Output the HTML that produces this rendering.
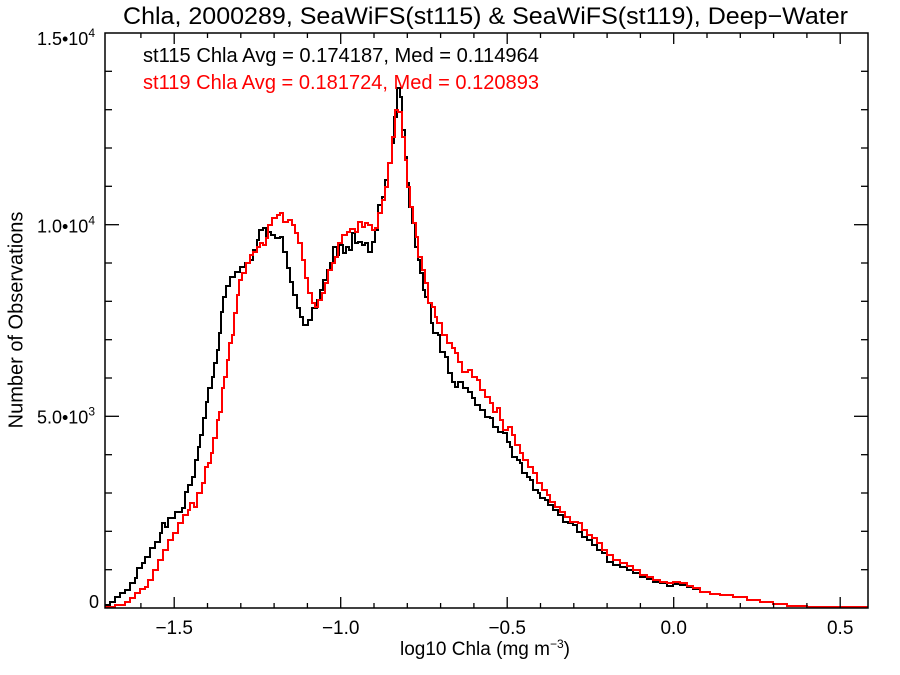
<!DOCTYPE html>
<html>
<head>
<meta charset="utf-8">
<style>
  html, body { margin: 0; padding: 0; background: #ffffff; }
  body { width: 900px; height: 675px; overflow: hidden; }
  svg { display: block; font-family: "Liberation Sans", Arial, sans-serif; }
</style>
</head>
<body>
<svg width="900" height="675" viewBox="0 0 900 675" xmlns="http://www.w3.org/2000/svg">
  <rect x="0" y="0" width="900" height="675" fill="#ffffff"/>

  <text x="123" y="24" font-size="24" fill="#000" textLength="725" lengthAdjust="spacingAndGlyphs">Chla, 2000289, SeaWiFS(st115) &amp; SeaWiFS(st119), Deep&#8722;Water</text>

  <path fill="none" stroke="#000" stroke-width="2" d="M105 605 H110 V602 H115 V597 H120 V593 H125 V590 H130 V583 H135 V578 H137 V568 H142 V563 H145 V557 H150 V548 H155 V542 H160 V533 H162 V523 H165 V527 H168 V518 H175 V512 H182 V508 H185 V492 H188 V485 H192 V477 H195 V460 H198 V447 H200 V435 H203 V418 H206 V402 H208 V388 H212 V377 H214 V363 H217 V350 H219 V333 H221 V312 H223 V297 H226 V286 H230 V277 H235 V272 H240 V267 H245 V263 H250 V260 H253 V250 H257 V240 H259 V230 H263 V228 H266 V238 H268 V232 H271 V235 H275 V238 H280 V237 H283 V252 H287 V268 H290 V282 H293 V295 H297 V308 H300 V317 H303 V325 H308 V320 H312 V308 H317 V300 H320 V290 H323 V280 H327 V270 H330 V263 H333 V247 H337 V255 H339 V245 H343 V253 H346 V247 H349 V250 H352 V233 H355 V243 H358 V242 H362 V245 H365 V243 H368 V252 H372 V242 H375 V230 H378 V205 H382 V197 H385 V180 H388 V163 H392 V143 H394 V117 H397 V88 H400 V97 H402 V130 H405 V157 H407 V183 H409 V207 H412 V223 H415 V247 H418 V260 H420 V273 H423 V290 H425 V297 H428 V303 H431 V323 H433 V333 H438 V335 H440 V352 H445 V357 H448 V373 H452 V382 H455 V387 H458 V382 H463 V388 H468 V392 H472 V398 H475 V405 H480 V410 H485 V417 H490 V418 H493 V427 H498 V432 H503 V433 H507 V442 H510 V447 H512 V457 H517 V460 H520 V463 H522 V473 H527 V477 H530 V480 H533 V490 H538 V493 H540 V498 H545 V500 H548 V505 H553 V510 H558 V515 H563 V522 H568 V523 H573 V525 H577 V532 H582 V537 H587 V540 H592 V545 H597 V550 H602 V553 H607 V562 H613 V565 H620 V567 H627 V570 H633 V573 H640 V577 H647 V579 H653 V582 H660 V583 H667 V586 H673 V584 H680 V585 H687 V587 H693 V589 H700 V592 H710 V594 H720 V595 H733 V597 H747 V600 H760 V602 H773 V604 H787 V606 H807 V607 H867 V608"/>

  <path fill="none" stroke="#ff0000" stroke-width="2" d="M105 607 H115 V605 H125 V602 H130 V598 H135 V593 H140 V589 H145 V587 H148 V580 H153 V570 H158 V560 H163 V550 H168 V540 H173 V533 H178 V523 H183 V515 H188 V510 H190 V503 H194 V507 H197 V493 H202 V483 H205 V467 H208 V463 H211 V453 H213 V438 H217 V420 H219 V412 H222 V388 H224 V377 H227 V360 H229 V343 H232 V335 H234 V313 H237 V295 H239 V280 H242 V273 H246 V263 H250 V255 H253 V252 H257 V247 H260 V243 H263 V245 H266 V238 H268 V225 H272 V218 H277 V215 H280 V213 H283 V222 H288 V220 H292 V225 H295 V233 H298 V243 H302 V260 H305 V278 H308 V293 H312 V303 H315 V307 H318 V300 H322 V293 H325 V283 H328 V270 H332 V263 H335 V257 H338 V243 H342 V235 H347 V232 H350 V229 H355 V232 H358 V222 H362 V227 H365 V223 H368 V225 H372 V230 H375 V228 H378 V213 H382 V200 H385 V187 H388 V163 H392 V137 H395 V110 H398 V112 H402 V137 H405 V160 H407 V187 H410 V207 H413 V223 H416 V237 H418 V257 H422 V270 H425 V283 H428 V303 H432 V307 H435 V317 H437 V323 H442 V335 H447 V343 H452 V348 H455 V353 H458 V362 H462 V372 H468 V370 H472 V377 H477 V380 H480 V390 H485 V397 H490 V403 H493 V412 H497 V408 H500 V420 H503 V430 H508 V427 H512 V435 H515 V445 H520 V453 H523 V460 H528 V467 H533 V473 H537 V483 H542 V490 H547 V495 H550 V502 H555 V507 H560 V512 H565 V517 H570 V522 H578 V523 H582 V530 H587 V535 H592 V538 H597 V543 H602 V550 H607 V555 H613 V560 H620 V563 H627 V566 H633 V570 H640 V575 H647 V577 H653 V580 H660 V582 H667 V583 H673 V582 H680 V583 H687 V586 H693 V588 H700 V592 H710 V594 H720 V595 H733 V597 H747 V600 H760 V602 H773 V604 H787 V606 H807 V607 H867 V608"/>

  <rect x="105" y="33" width="763" height="575" fill="none" stroke="#000" stroke-width="1.5"/>

  <g stroke="#000" stroke-width="1.3">
    <line x1="140.9" y1="608" x2="140.9" y2="603"/>
    <line x1="174.2" y1="608" x2="174.2" y2="597"/>
    <line x1="207.5" y1="608" x2="207.5" y2="603"/>
    <line x1="240.8" y1="608" x2="240.8" y2="603"/>
    <line x1="274.1" y1="608" x2="274.1" y2="603"/>
    <line x1="307.4" y1="608" x2="307.4" y2="603"/>
    <line x1="340.7" y1="608" x2="340.7" y2="597"/>
    <line x1="374.0" y1="608" x2="374.0" y2="603"/>
    <line x1="407.3" y1="608" x2="407.3" y2="603"/>
    <line x1="440.6" y1="608" x2="440.6" y2="603"/>
    <line x1="473.9" y1="608" x2="473.9" y2="603"/>
    <line x1="507.2" y1="608" x2="507.2" y2="597"/>
    <line x1="540.5" y1="608" x2="540.5" y2="603"/>
    <line x1="573.8" y1="608" x2="573.8" y2="603"/>
    <line x1="607.1" y1="608" x2="607.1" y2="603"/>
    <line x1="640.4" y1="608" x2="640.4" y2="603"/>
    <line x1="673.7" y1="608" x2="673.7" y2="597"/>
    <line x1="707.0" y1="608" x2="707.0" y2="603"/>
    <line x1="740.3" y1="608" x2="740.3" y2="603"/>
    <line x1="773.6" y1="608" x2="773.6" y2="603"/>
    <line x1="806.9" y1="608" x2="806.9" y2="603"/>
    <line x1="840.2" y1="608" x2="840.2" y2="597"/>
    <line x1="140.9" y1="33" x2="140.9" y2="38"/>
    <line x1="174.2" y1="33" x2="174.2" y2="44"/>
    <line x1="207.5" y1="33" x2="207.5" y2="38"/>
    <line x1="240.8" y1="33" x2="240.8" y2="38"/>
    <line x1="274.1" y1="33" x2="274.1" y2="38"/>
    <line x1="307.4" y1="33" x2="307.4" y2="38"/>
    <line x1="340.7" y1="33" x2="340.7" y2="44"/>
    <line x1="374.0" y1="33" x2="374.0" y2="38"/>
    <line x1="407.3" y1="33" x2="407.3" y2="38"/>
    <line x1="440.6" y1="33" x2="440.6" y2="38"/>
    <line x1="473.9" y1="33" x2="473.9" y2="38"/>
    <line x1="507.2" y1="33" x2="507.2" y2="44"/>
    <line x1="540.5" y1="33" x2="540.5" y2="38"/>
    <line x1="573.8" y1="33" x2="573.8" y2="38"/>
    <line x1="607.1" y1="33" x2="607.1" y2="38"/>
    <line x1="640.4" y1="33" x2="640.4" y2="38"/>
    <line x1="673.7" y1="33" x2="673.7" y2="44"/>
    <line x1="707.0" y1="33" x2="707.0" y2="38"/>
    <line x1="740.3" y1="33" x2="740.3" y2="38"/>
    <line x1="773.6" y1="33" x2="773.6" y2="38"/>
    <line x1="806.9" y1="33" x2="806.9" y2="38"/>
    <line x1="840.2" y1="33" x2="840.2" y2="44"/>
  </g>

  <g stroke="#000" stroke-width="1.3">
    <line x1="105" y1="569.7" x2="112" y2="569.7"/>
    <line x1="105" y1="531.3" x2="112" y2="531.3"/>
    <line x1="105" y1="493.0" x2="112" y2="493.0"/>
    <line x1="105" y1="454.7" x2="112" y2="454.7"/>
    <line x1="105" y1="416.3" x2="119" y2="416.3"/>
    <line x1="105" y1="378.0" x2="112" y2="378.0"/>
    <line x1="105" y1="339.7" x2="112" y2="339.7"/>
    <line x1="105" y1="301.3" x2="112" y2="301.3"/>
    <line x1="105" y1="263.0" x2="112" y2="263.0"/>
    <line x1="105" y1="224.7" x2="119" y2="224.7"/>
    <line x1="105" y1="186.3" x2="112" y2="186.3"/>
    <line x1="105" y1="148.0" x2="112" y2="148.0"/>
    <line x1="105" y1="109.7" x2="112" y2="109.7"/>
    <line x1="105" y1="71.3" x2="112" y2="71.3"/>
    <line x1="868" y1="569.7" x2="861" y2="569.7"/>
    <line x1="868" y1="531.3" x2="861" y2="531.3"/>
    <line x1="868" y1="493.0" x2="861" y2="493.0"/>
    <line x1="868" y1="454.7" x2="861" y2="454.7"/>
    <line x1="868" y1="416.3" x2="854" y2="416.3"/>
    <line x1="868" y1="378.0" x2="861" y2="378.0"/>
    <line x1="868" y1="339.7" x2="861" y2="339.7"/>
    <line x1="868" y1="301.3" x2="861" y2="301.3"/>
    <line x1="868" y1="263.0" x2="861" y2="263.0"/>
    <line x1="868" y1="224.7" x2="854" y2="224.7"/>
    <line x1="868" y1="186.3" x2="861" y2="186.3"/>
    <line x1="868" y1="148.0" x2="861" y2="148.0"/>
    <line x1="868" y1="109.7" x2="861" y2="109.7"/>
    <line x1="868" y1="71.3" x2="861" y2="71.3"/>
  </g>

  <g font-size="19" fill="#000" text-anchor="middle">
    <text x="174.2" y="634">&#8722;1.5</text>
    <text x="340.7" y="634">&#8722;1.0</text>
    <text x="507.2" y="634">&#8722;0.5</text>
    <text x="673.7" y="634">0.0</text>
    <text x="840.2" y="634">0.5</text>
  </g>

  <g font-size="18" fill="#000" text-anchor="end">
    <text x="99" y="608">0</text>
    <text x="95" y="423.3">5.0&#8226;10<tspan dy="-8" font-size="12">3</tspan></text>
    <text x="95" y="232.7">1.0&#8226;10<tspan dy="-8" font-size="12">4</tspan></text>
    <text x="95" y="45">1.5&#8226;10<tspan dy="-8" font-size="12">4</tspan></text>
  </g>

  <text x="400" y="655" font-size="19" fill="#000">log10 Chla (mg m<tspan dy="-7" font-size="12">&#8722;3</tspan><tspan dy="7">)</tspan></text>
  <text transform="translate(22.7,320) rotate(-90)" x="0" y="0" font-size="20" fill="#000" text-anchor="middle">Number of Observations</text>

  <text x="143" y="62" font-size="20" fill="#000" textLength="396" lengthAdjust="spacingAndGlyphs">st115 Chla Avg = 0.174187, Med = 0.114964</text>
  <text x="143" y="89" font-size="20" fill="#ff0000" textLength="396" lengthAdjust="spacingAndGlyphs">st119 Chla Avg = 0.181724, Med = 0.120893</text>
</svg>
</body>
</html>
